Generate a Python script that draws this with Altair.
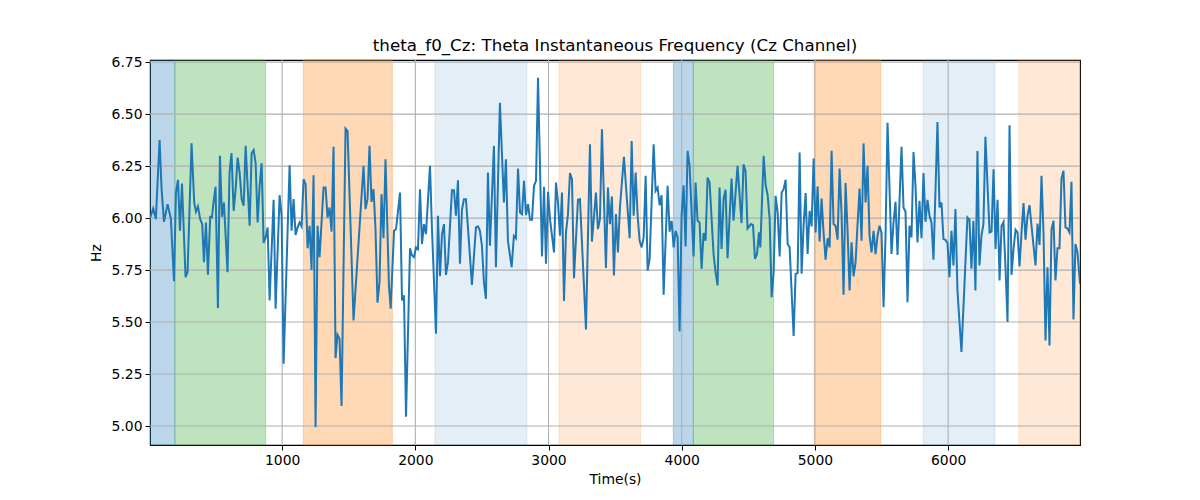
import altair as alt
import pandas as pd

times = [8, 32, 52, 80, 95, 113, 140, 165, 188, 203, 218, 233, 248, 275, 290, 320, 340, 353, 368, 385, 400, 413, 428, 443, 460, 473, 485, 500, 518, 533, 548, 563, 590, 605, 620, 636, 651, 666, 681, 696, 711, 726, 756, 771, 786, 801, 816, 831, 846, 861, 876, 891, 906,
         936, 951, 981, 996, 1011, 1056, 1071, 1086, 1101, 1116, 1131, 1146, 1161, 1176, 1191, 1206, 1221, 1236, 1251, 1266, 1281, 1311, 1326, 1341, 1356, 1371, 1386, 1401, 1416, 1431, 1446, 1476, 1491, 1536, 1611, 1626, 1641, 1656, 1671, 1686, 1701, 1716, 1731, 1746, 1761, 1776,
         1802, 1815, 1840, 1855, 1885, 1900, 1915, 1930, 1960, 1975, 1990, 2005, 2020, 2035, 2050, 2065, 2080, 2110, 2125, 2155, 2170, 2185, 2200, 2215, 2230, 2245, 2275, 2290, 2305, 2320, 2335, 2350, 2365, 2380, 2425, 2455, 2470, 2485, 2500, 2515, 2530, 2545, 2560, 2590, 2605, 2635, 2665, 2680, 2695,
         2723, 2740, 2755, 2771, 2786, 2801, 2816, 2831, 2846, 2861, 2876, 2891, 2906, 2921, 2951, 2966, 2981, 2996, 3011, 3041, 3056, 3071, 3086, 3101, 3116, 3131, 3146, 3161, 3176, 3191, 3221, 3236, 3281, 3311, 3326, 3356, 3371, 3386, 3401, 3431, 3446, 3461, 3476, 3491, 3506, 3521, 3536, 3566,
         3609, 3624, 3639, 3654, 3669, 3684, 3699, 3714, 3729, 3744, 3759, 3789, 3804, 3819, 3834, 3849, 3864, 3894, 3909, 3924, 3939, 3954, 3969, 3984, 3999, 4014, 4029, 4044, 4059, 4089, 4104, 4119, 4134, 4149, 4164, 4179, 4194, 4209, 4239, 4254, 4269, 4284, 4299, 4314, 4329, 4344, 4374, 4389, 4419, 4449, 4464, 4479, 4494,
         4520, 4535, 4550, 4565, 4580, 4590, 4615, 4630, 4645, 4660, 4675, 4690, 4705, 4720, 4735, 4750, 4765, 4780, 4795, 4810, 4840, 4855, 4870, 4885, 4900, 4915, 4930, 4945, 4960, 4975, 4990, 5005, 5020, 5035, 5050, 5065, 5080, 5095, 5110, 5125, 5140, 5155, 5170, 5185, 5200, 5215, 5230, 5245, 5260, 5275, 5290, 5305, 5320, 5335, 5350, 5365, 5380, 5395,
         5410, 5425, 5440, 5455, 5470, 5485, 5500, 5515, 5530, 5545, 5575, 5590, 5605, 5620, 5650, 5665, 5680, 5695, 5710, 5725, 5740, 5755, 5770, 5785, 5800, 5815, 5830, 5845, 5860, 5875, 5890, 5920, 5935, 5950, 5965, 5980, 5995, 6010, 6025, 6040, 6055, 6070, 6100, 6145, 6160, 6175, 6190, 6205, 6220, 6235, 6250, 6265, 6280,
         6311, 6326, 6341, 6356, 6371, 6386, 6401, 6416, 6431, 6446, 6461, 6476, 6491, 6506, 6521, 6536, 6551, 6566, 6581, 6596, 6611, 6626, 6656, 6671, 6686, 6701, 6716, 6731, 6746, 6761, 6776, 6791, 6806, 6821, 6836, 6851, 6866, 6881, 6896, 6911, 6926, 6941, 6956, 6971, 6990]

hz = [6.00, 6.046, 5.995, 6.375, 6.139, 5.982, 6.067, 5.995, 5.696, 6.123, 6.184, 5.939, 6.166, 5.716, 5.740, 6.359, 6.075, 6.030, 6.056, 5.995, 5.971, 5.788, 5.979, 5.728, 6.006, 6.003, 6.075, 6.150, 5.567, 6.299, 6.006, 6.075, 5.740, 6.219, 6.312, 6.035, 6.139, 6.291, 6.219, 6.091, 6.059, 6.347, 5.963, 6.312, 6.327, 6.264, 5.979, 6.155, 6.264, 5.880, 5.907, 5.955, 5.604,
      6.088, 5.564, 6.110, 6.011, 5.300, 6.254, 5.939, 6.091, 5.919, 5.955, 5.979, 5.960, 6.187, 6.163, 5.855, 5.963, 5.751, 6.206, 4.994, 5.963, 5.812, 6.147, 6.147, 6.003, 6.051, 5.935, 6.343, 5.327, 5.439, 5.420, 5.097, 6.430, 6.419, 5.508, 6.251, 6.043, 6.091, 6.347, 6.078, 6.139, 5.947, 5.593, 5.692, 6.115, 5.903, 6.283,
      5.676, 5.564, 5.939, 5.947, 6.123, 5.604, 5.628, 5.045, 5.855, 5.820, 5.812, 5.859, 5.851, 6.139, 5.875, 5.971, 5.923, 6.251, 5.947, 5.444, 6.011, 5.720, 5.923, 5.971, 5.727, 5.788, 6.134, 6.134, 6.011, 6.182, 5.780, 6.040, 6.091, 6.091, 5.679, 5.955, 5.960, 5.939, 5.867, 5.692, 5.612, 6.219, 5.867, 6.347, 5.764, 6.554, 6.075, 6.283, 5.891,
      5.764, 5.915, 5.903, 6.238, 6.027, 6.019, 6.179, 6.014, 6.067, 5.992, 5.992, 6.155, 6.179, 6.674, 5.816, 6.150, 5.780, 6.126, 5.995, 5.835, 6.171, 6.075, 5.915, 6.123, 5.601, 5.931, 6.019, 6.216, 6.187, 5.711, 6.088, 6.091, 5.465, 6.355, 5.887, 6.123, 5.947, 5.995, 6.427, 5.760, 6.147, 5.971, 6.104, 5.724, 6.019, 5.835, 6.051, 6.294,
      5.903, 6.371, 6.011, 6.219, 6.011, 5.891, 5.859, 5.907, 6.203, 5.748, 5.804, 6.355, 6.131, 6.147, 6.062, 6.110, 5.631, 6.155, 5.935, 5.987, 5.859, 5.939, 5.907, 5.455, 6.011, 6.158, 5.863, 6.323, 6.251, 5.816, 6.171, 5.987, 5.979, 5.756, 5.928, 5.891, 6.195, 6.171, 5.827, 5.740, 5.676, 6.147, 5.851, 6.091, 6.136, 5.807, 6.190, 5.987, 6.251, 5.976, 6.259, 6.227, 5.950,
      5.971, 5.966, 5.804, 5.827, 5.931, 5.859, 6.299, 6.158, 6.110, 5.995, 5.620, 5.740, 6.107, 6.027, 5.816, 6.123, 6.139, 6.184, 5.875, 5.859, 5.433, 5.732, 5.736, 6.315, 5.732, 5.966, 6.120, 5.827, 6.035, 5.960, 6.286, 5.931, 6.152, 5.887, 6.094, 5.928, 5.800, 5.903, 5.859, 6.323, 5.971, 5.963, 5.896, 6.238, 6.019, 5.631, 6.168, 5.939, 5.652, 5.883, 5.720, 5.788, 5.971, 6.142, 5.891, 6.359, 6.075, 6.251,
      5.915, 5.835, 5.939, 5.827, 5.915, 5.963, 5.931, 5.572, 5.915, 6.458, 5.827, 5.979, 6.078, 5.823, 6.343, 6.051, 6.030, 5.596, 5.963, 5.907, 6.318, 6.155, 5.883, 6.083, 5.903, 6.216, 5.982, 6.088, 6.011, 5.979, 5.800, 6.462, 6.051, 6.075, 5.899, 5.895, 5.880, 5.716, 5.939, 5.772, 6.043, 5.652, 5.356, 6.003, 5.992, 5.756, 5.987, 5.652, 6.323, 5.772, 5.915, 5.971, 6.391,
      5.931, 5.935, 6.235, 5.851, 6.088, 5.700, 5.963, 5.982, 5.756, 5.500, 6.446, 5.727, 5.851, 5.944, 5.931, 5.768, 5.931, 6.072, 5.896, 6.011, 6.062, 5.963, 5.772, 5.974, 5.871, 6.203, 5.931, 5.412, 5.764, 5.388, 5.944, 5.987, 5.700, 5.855, 5.855, 6.190, 6.227, 5.955, 5.950, 5.931, 6.174, 5.513, 5.875, 5.835, 5.684]

span_start = [8, 195, 1159, 2147, 3078, 3937, 4087, 4995, 5813, 6531]
span_end = [195, 876, 1827, 2838, 3691, 4087, 4690, 5493, 6351, 6990]
span_color = ["#1f77b4", "#2ca02c", "#ff7f0e", "#1f77b4", "#ff7f0e",
              "#1f77b4", "#2ca02c", "#ff7f0e", "#1f77b4", "#ff7f0e"]
span_alpha = [0.3, 0.3, 0.3, 0.12, 0.17, 0.3, 0.3, 0.3, 0.12, 0.17]

x_ticks = [1000, 2000, 3000, 4000, 5000, 6000]
y_ticks = [5.00, 5.25, 5.50, 5.75, 6.00, 6.25, 6.50, 6.75]

line_df = pd.DataFrame({"t": times, "hz": hz})
span_df = pd.DataFrame({"s": span_start, "e": span_end, "c": span_color, "a": span_alpha})
xg_df = pd.DataFrame({"x": x_ticks})
yg_df = pd.DataFrame({"y": y_ticks})

xscale = alt.Scale(domain=[8, 6990], nice=False, zero=False)
yscale = alt.Scale(domain=[4.909, 6.76], nice=False, zero=False)

FONT = "DejaVu Sans"

xaxis = alt.Axis(values=x_ticks, format="d", title="Time(s)", grid=False,
                 tickSize=5, tickColor="black", labelPadding=3, titlePadding=6,
                 domain=False, labelFontSize=13.9, titleFontSize=13.9,
                 labelFont=FONT, titleFont=FONT, labelColor="black", titleColor="black",
                 titleFontWeight="normal")
yaxis = alt.Axis(values=y_ticks, format=".2f", title="Hz", grid=False,
                 tickSize=5, tickColor="black", labelPadding=3, titlePadding=8,
                 domain=False, labelFontSize=13.9, titleFontSize=13.9,
                 labelFont=FONT, titleFont=FONT, labelColor="black", titleColor="black",
                 titleFontWeight="normal")

spans = alt.Chart(span_df).mark_rect(strokeWidth=1).encode(
    x=alt.X("s:Q", scale=xscale, axis=xaxis),
    x2="e:Q",
    fill=alt.Fill("c:N", scale=None),
    stroke=alt.Stroke("c:N", scale=None),
    fillOpacity=alt.FillOpacity("a:Q", scale=None),
    strokeOpacity=alt.StrokeOpacity("a:Q", scale=None),
)

xgrid = alt.Chart(xg_df).mark_rule(color="#b0b0b0", strokeWidth=1.1).encode(
    x=alt.X("x:Q", scale=xscale)
)
ygrid = alt.Chart(yg_df).mark_rule(color="#b0b0b0", strokeWidth=1.1).encode(
    y=alt.Y("y:Q", scale=yscale, axis=yaxis)
)

line = alt.Chart(line_df).mark_line(color="#1f77b4", strokeWidth=2.0, clip=True).encode(
    x=alt.X("t:Q", scale=xscale),
    y=alt.Y("hz:Q", scale=yscale),
)

chart = alt.layer(spans, xgrid, ygrid, line).properties(
    width=930, height=385,
    autosize="none",
    padding={"left": 142, "top": 52, "right": 112, "bottom": 47},
    title=alt.TitleParams("theta_f0_Cz: Theta Instantaneous Frequency (Cz Channel)",
                          font=FONT, fontSize=16.7, fontWeight="normal", color="black",
                          offset=0),
).configure_view(stroke="black", strokeWidth=1.1)

chart.save("out.html", embed_options={"renderer": "svg", "actions": False})
